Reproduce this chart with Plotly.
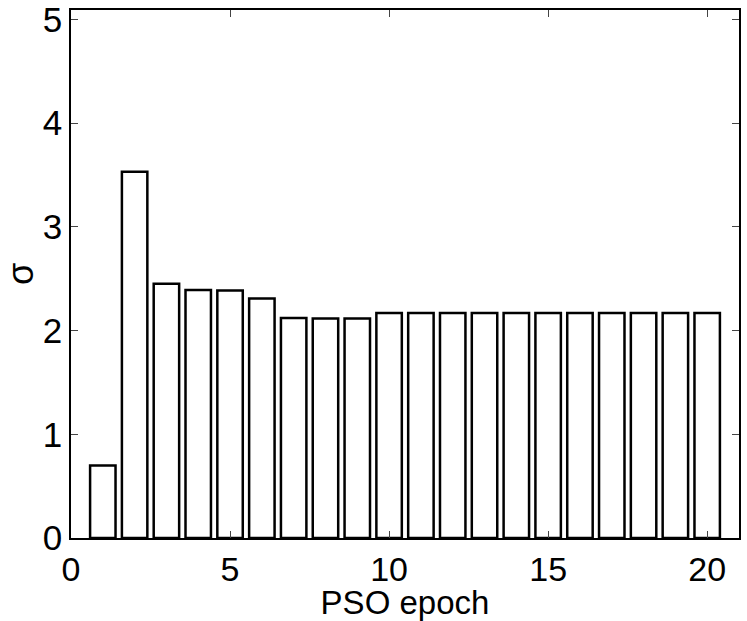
import plotly.graph_objects as go

epochs = list(range(1, 21))
sigma = [0.70, 3.53, 2.45, 2.39, 2.385, 2.31, 2.12, 2.115, 2.115, 2.17,
         2.17, 2.17, 2.17, 2.17, 2.17, 2.17, 2.17, 2.17, 2.17, 2.17]
x_ticks = [0, 5, 10, 15, 20]
y_ticks = [0, 1, 2, 3, 4, 5]

fig = go.Figure()
fig.add_trace(go.Bar(
    x=epochs, y=sigma, width=0.8,
    marker=dict(color="white", line=dict(color="black", width=2.5)),
))

font = "Liberation Sans, Arial, sans-serif"
fig.update_layout(
    width=747, height=621,
    margin=dict(l=71, r=8, t=10, b=83),
    plot_bgcolor="white", paper_bgcolor="white",
    showlegend=False,
    font=dict(family=font, color="black"),
    xaxis=dict(
        range=[0, 21], tickvals=x_ticks, ticks="inside", ticklen=7,
        showline=True, linecolor="black", linewidth=1.5, mirror="ticks",
        showgrid=False, zeroline=False, automargin=False,
        ticklabeloverflow="allow",
        tickfont=dict(size=34, family=font, color="black"),
        title=dict(text="PSO epoch", font=dict(size=33, family=font, color="black"), standoff=13),
    ),
    yaxis=dict(
        range=[0, 5.09], tickvals=y_ticks, ticks="inside", ticklen=7,
        showline=True, linecolor="black", linewidth=1.5, mirror="ticks",
        showgrid=False, zeroline=False, automargin=False,
        ticklabeloverflow="allow",
        tickfont=dict(size=35, family=font, color="black"),
        title=dict(text="σ", font=dict(size=36, family=font, color="black"), standoff=12),
    ),
)

fig.write_html("out.html")
